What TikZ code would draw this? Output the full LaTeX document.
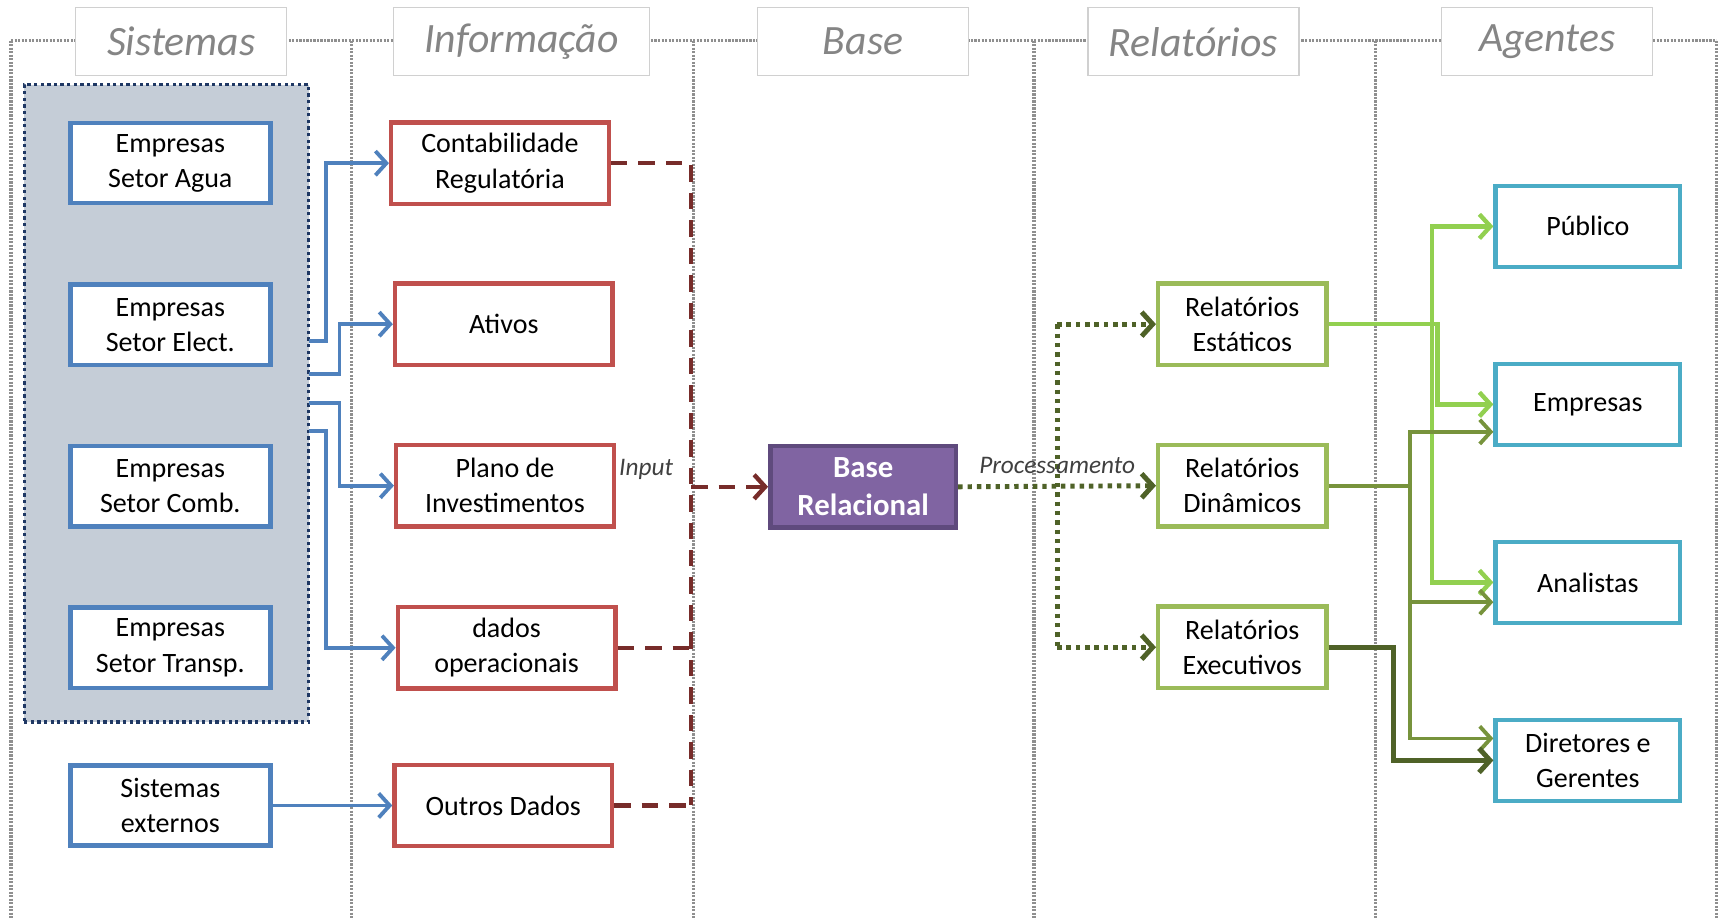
\documentclass[tikz,border=0pt]{standalone}
\usepackage{fontspec}
\setmainfont{Carlito}
\usetikzlibrary{arrows.meta,calc}
\definecolor{bluebox}{HTML}{4F81BD}
\definecolor{redbox}{HTML}{C0504D}
\definecolor{greenbox}{HTML}{9BBB59}
\definecolor{cyanbox}{HTML}{4BACC6}
\definecolor{purplefill}{HTML}{8064A2}
\definecolor{purpledraw}{HTML}{5F4A7D}
\definecolor{darkred}{HTML}{772C2A}
\definecolor{olivegreen}{HTML}{4F6228}
\definecolor{midgreen}{HTML}{77933C}
\definecolor{lightgreen}{HTML}{92D050}
\definecolor{groupfill}{HTML}{C5CDD7}
\definecolor{navyline}{HTML}{1F3864}
\definecolor{framegray}{HTML}{8F8F8F}
\definecolor{headgray}{HTML}{858585}
\definecolor{headborder}{HTML}{D0D0D0}
\begin{document}
\begin{tikzpicture}[x=1pt,y=-1pt,
  box/.style={draw, fill=white, line width=4pt, rectangle, align=center, inner sep=0pt,
    font=\fontsize{25.5}{32}\selectfont, minimum height=74pt},
  sysbox/.style={box, draw=bluebox, minimum width=182pt, minimum height=73pt},
  infobox/.style={box, draw=redbox, minimum width=198pt},
  repbox/.style={box, draw=greenbox, minimum width=153pt},
  agbox/.style={box, draw=cyanbox, minimum width=168pt},
  headbox/.style={draw=headborder, fill=white, line width=1.2pt, minimum width=192pt, minimum height=62pt,
    inner sep=0pt, text=headgray, font=\fontsize{38}{42}\selectfont\itshape},
  frameline/.style={draw=framegray, line width=3pt, dash pattern=on 2pt off 1.2pt},
  tip/.style={-{Straight Barb[length=10pt,width=22pt]}},
  bluearrow/.style={draw=bluebox, line width=3.5pt, tip},
  redline/.style={draw=darkred, line width=4pt, dash pattern=on 15pt off 10pt},
  greendot/.style={draw=olivegreen, line width=4.5pt, dash pattern=on 4pt off 4.5pt},
  lbl/.style={font=\fontsize{23}{26}\selectfont\itshape, text=black!75, inner sep=0pt}
]
\useasboundingbox (0,0) rectangle (1568,837);

% frame
\draw[frameline] (10,37) -- (1562,37);
\foreach \xx in {10,320,631,941,1252,1562} {\draw[frameline] (\xx,37) -- (\xx,837);}

% headers
\node[headbox] (hSis) at (165,38) {Sistemas};
\node[headbox, minimum width=233pt] (hInf) at (474.5,38) {Informação};
\node[headbox] (hBase) at (785.5,38) {Base};
\node[headbox] (hRel) at (1086,38) {Relatórios};
\node[headbox] (hAg) at (1408,38) {Agentes};

% group
\node[draw=navyline, fill=groupfill, line width=3pt, dash pattern=on 3pt off 3pt,
  minimum width=259pt, minimum height=580pt, inner sep=0pt] (grp) at (151.5,367) {};

% systems
\node[sysbox] (agua) at (155,148.5) {Empresas\\Setor Agua};
\node[sysbox] (elec) at (155,295.5) {Empresas\\Setor Elect.};
\node[sysbox] (comb) at (155,442.5) {Empresas\\Setor Comb.};
\node[sysbox] (transp) at (155,589.5) {Empresas\\Setor Transp.};
\node[sysbox] (ext) at (155,733) {Sistemas\\externos};

% information
\node[infobox] (contab) at (455,148.5) {Contabilidade\\Regulatória};
\node[infobox] (ativos) at (458.5,295) {Ativos};
\node[infobox] (plano) at (459.5,442) {Plano de\\Investimentos};
\node[infobox] (dados) at (461,589.5) {dados\\operacionais};
\node[infobox] (outros) at (458,733) {Outros Dados};

% base
\node[box, draw=purpledraw, fill=purplefill, text=white, minimum width=169pt,
  font=\fontsize{28}{34}\selectfont\bfseries] (base) at (785.5,443) {Base\\Relacional};

% reports
\node[repbox] (stat) at (1130.5,295) {Relatórios\\Estáticos};
\node[repbox] (dyn) at (1130.5,442) {Relatórios\\Dinâmicos};
\node[repbox] (exec) at (1130.5,589) {Relatórios\\Executivos};

% agents
\node[agbox] (pub) at (1445,206) {Público};
\node[agbox] (emp) at (1445,368) {Empresas};
\node[agbox] (ana) at (1445,530) {Analistas};
\node[agbox] (dir) at (1445,692) {Diretores e\\Gerentes};

% blue arrows
\coordinate (g1) at (281,310);
\coordinate (g2) at (281,340);
\coordinate (g3) at (281,367);
\coordinate (g4) at (281,392);
\draw[bluearrow] (g1) -- ++(16,0) |- (contab.west);
\draw[bluearrow] (g2) -- ++(28,0) |- (ativos.west);
\draw[bluearrow] (g3) -- ++(28,0) |- (plano.west);
\draw[bluearrow] (g4) -- ++(16,0) |- (dados.west);
\draw[bluearrow] (ext.east) -- (outros.west);

% red dashed bus
\coordinate (busT) at (629,148.5);
\coordinate (busB) at (629,733);
\draw[redline] (contab.east) -- (busT) -- (busB);
\draw[redline] (dados.east) -- (dados.east -| busT);
\draw[redline] (outros.east) -- (busB);
\draw[redline, tip] (base.west -| busT) -- (base.west);
\node[lbl, anchor=base] (inp) at (588,433) {Input};

% green dotted
\coordinate (pv) at (962,443);
\draw[greendot, tip] (base.east) -- (dyn.west);
\draw[greendot] (stat.west -| pv) -- (exec.west -| pv);
\draw[greendot, tip] (stat.west -| pv) -- (stat.west);
\draw[greendot, tip] (exec.west -| pv) -- (exec.west);
\node[lbl, anchor=base] (proc) at (962,431) {Processamento};

% right side arrows
\coordinate (s1) at (1303,295);
\coordinate (s2) at (1308,295);
\draw[draw=lightgreen, line width=4pt, tip] (stat.east) -- (s1) |- (pub.west);
\draw[draw=lightgreen, line width=4pt, tip] (s1) |- (ana.west);
\draw[draw=lightgreen, line width=4pt, tip] (stat.east) -- (s2) |- (emp.west);

\coordinate (d1) at (1283,442);
\draw[draw=midgreen, line width=3.5pt, tip] (dyn.east) -- (d1) |- ([yshift=-25pt]emp.west);
\draw[draw=midgreen, line width=3.5pt, tip] (d1) |- ([yshift=-18pt]ana.west);
\draw[draw=midgreen, line width=3.5pt, tip] (d1) |- ([yshift=20pt]dir.west);

\coordinate (e1) at (1268,589);
\draw[draw=olivegreen, line width=4.5pt, tip] (exec.east) -- (e1) |- (dir.west);
\end{tikzpicture}
\end{document}
